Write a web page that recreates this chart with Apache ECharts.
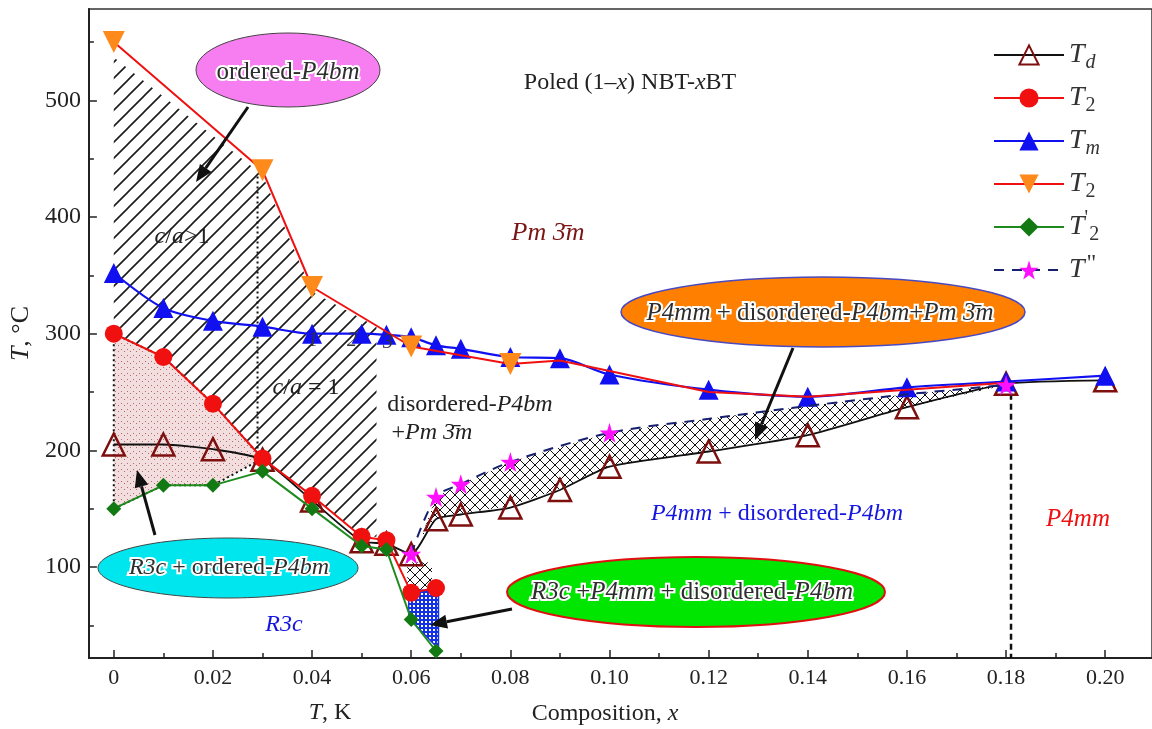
<!DOCTYPE html>
<html>
<head>
<meta charset="utf-8">
<script src="https://cdn.jsdelivr.net/npm/echarts@6/dist/echarts.min.js"></script>
<style>
html, body { margin: 0; padding: 0; background: #fff; }
#main { width: 1152px; height: 729px; }
</style>
</head>
<body>
<div id="main"></div>
<script>
const FONT = "'Liberation Serif', 'Times New Roman', serif"

// ---- data ----
const tdX = [0, 0.01, 0.02, 0.03, 0.04, 0.05, 0.055, 0.06, 0.065, 0.07, 0.08, 0.09, 0.10, 0.12, 0.14, 0.16, 0.18, 0.20]
const tdY = [205, 205, 201, 192, 157, 122, 120, 111, 141, 145, 151, 166, 186, 199, 213, 237, 257, 260]

const t2X = [0, 0.01, 0.02, 0.03, 0.04, 0.05, 0.055, 0.06, 0.065]
const t2Y = [300, 280, 240, 193, 161, 126, 123, 78, 82]

const tmX = [0, 0.01, 0.02, 0.03, 0.04, 0.05, 0.055, 0.06, 0.065, 0.07, 0.08, 0.09, 0.10, 0.12, 0.14, 0.16, 0.18, 0.20]
const tmY = [352, 322, 311, 306, 300, 300, 299, 297, 290, 287, 280, 279, 265, 252, 246, 254, 259, 264]

const t2bX = [0, 0.03, 0.04, 0.06, 0.08, 0.09, 0.10, 0.12, 0.14, 0.16, 0.18]
const t2bY = [550, 440, 340, 289, 274, 277, 268, 250, 246, 252, 258]
const t2bMarked = [1, 1, 1, 1, 1, 0, 0, 0, 0, 0, 0]

const t2pX = [0, 0.01, 0.02, 0.03, 0.04, 0.05, 0.055, 0.06, 0.065]
const t2pY = [150, 170, 170, 182, 150, 118, 115, 55, 28]

const tppX = [0.06, 0.065, 0.07, 0.08, 0.10, 0.12, 0.14, 0.16, 0.18]
const tppY = [111, 160, 171, 190, 215, 227, 238, 248, 256]
const tppMarked = [1, 1, 1, 1, 1, 0, 0, 0, 1]

// phase regions (x, T)
const hatchRegion = [[0, 537], [0.03, 436], [0.04, 336], [0.053, 306], [0.053, 126], [0.05, 126], [0.04, 161], [0.03, 193], [0.02, 240], [0.01, 280], [0, 300]]
const dotRegion = [[0, 300], [0.01, 280], [0.02, 240], [0.03, 193], [0.02, 170], [0.01, 170], [0, 150]]
const crossRegion = [[0.062, 125], [0.065, 160], [0.07, 171], [0.08, 190], [0.10, 215], [0.12, 227], [0.14, 238], [0.16, 248], [0.18, 256],
  [0.16, 237], [0.14, 214], [0.12, 200], [0.10, 186], [0.09, 167], [0.08, 152], [0.07, 146], [0.065, 141]]
const crossSmall = [[0.0592, 104], [0.0642, 104], [0.0642, 80], [0.0592, 80]]
const blueRegion = [[0.0595, 80], [0.0655, 80], [0.0655, 30], [0.0595, 56]]
const caBoundary = [[0.029, 193], [0.029, 436]]
const p4mmBoundary = [[0.181, 257], [0.181, 22]]

// ticks
const xMajor = [0, 0.02, 0.04, 0.06, 0.08, 0.10, 0.12, 0.14, 0.16, 0.18, 0.20]
const xMinor = [0.01, 0.03, 0.05, 0.07, 0.09, 0.11, 0.13, 0.15, 0.17, 0.19]
const yMajor = [100, 200, 300, 400, 500]
const yMinor = [50, 150, 250, 350, 450, 550]

const X_MIN = -0.00502
const X_MAX = 0.20944
const Y_MIN = 22
const Y_MAX = 578.3

const zip = (xs, ys) => xs.map((x, i) => [x, ys[i]])
const STAR = 'path://M50,0 L61,35 L98,35 L68,57 L79,91 L50,70 L21,91 L32,57 L2,35 L39,35 Z'

function pattern(size, draw) {
  const c = document.createElement('canvas')
  c.width = c.height = size
  draw(c.getContext('2d'), size)
  return { image: c, repeat: 'repeat' }
}

const hatchFill = pattern(16, (ctx, s) => {
  ctx.strokeStyle = '#1a1a1a'
  ctx.lineWidth = 1.6
  ctx.beginPath()
  ctx.moveTo(-2, s + 2); ctx.lineTo(s + 2, -2)
  ctx.moveTo(-2, 2); ctx.lineTo(2, -2)
  ctx.moveTo(s - 2, s + 2); ctx.lineTo(s + 2, s - 2)
  ctx.stroke()
})
const crossFill = pattern(10, (ctx, s) => {
  ctx.fillStyle = '#fff'
  ctx.fillRect(0, 0, s, s)
  ctx.strokeStyle = '#111'
  ctx.lineWidth = 1
  ctx.beginPath()
  ctx.moveTo(0, 0); ctx.lineTo(s, s)
  ctx.moveTo(0, s); ctx.lineTo(s, 0)
  ctx.stroke()
})
const blueFill = pattern(4, (ctx, s) => {
  ctx.fillStyle = '#1431e6'
  ctx.fillRect(0, 0, s, s)
  ctx.fillStyle = '#fff'
  ctx.fillRect(1, 1, 2, 2)
})
const dotFill = pattern(6, (ctx, s) => {
  ctx.fillStyle = '#f2dede'
  ctx.fillRect(0, 0, s, s)
  ctx.fillStyle = '#b56a6a'
  ctx.fillRect(1, 1, 1, 1)
  ctx.fillRect(4, 3, 1, 1)
})

function region(pts, fill, stroke, lineWidth, dash) {
  return {
    type: 'custom',
    silent: true,
    z: 1,
    data: [pts[0]],
    renderItem: (params, api) => ({
      type: 'polygon',
      shape: { points: pts.map(p => api.coord(p)) },
      style: { fill: fill, stroke: stroke || 'none', lineWidth: lineWidth || 0, lineDash: dash || null }
    })
  }
}

function it(size, color) {
  return { fontStyle: 'italic', fontSize: size, fontFamily: FONT, color: color, fill: color }
}

function txt(text, x, y, size, color, zz) {
  const c = color || '#222'
  return {
    type: 'text', x: x, y: y, z: zz || 100, silent: true,
    style: {
      text: text, fill: c, fontSize: size, fontFamily: FONT, align: 'center', verticalAlign: 'middle',
      rich: {
        i: { fontStyle: 'italic', fontSize: size, fontFamily: FONT, fill: c }
      }
    }
  }
}

// dark text with a white halo: halo layer underneath, plain text on top
function bubbleTxt(text, x, y, size) {
  const halo = txt(text, x, y, size, '#fff', 99)
  halo.style.stroke = '#fff'
  halo.style.lineWidth = 4
  halo.style.rich.i.stroke = '#fff'
  halo.style.rich.i.lineWidth = 4
  return [halo, txt(text, x, y, size, '#2e2e2e', 100)]
}

function ellipse(cx, cy, rx, ry, fill, stroke, lw) {
  return { type: 'ellipse', z: 90, silent: true, shape: { cx, cy, rx, ry }, style: { fill, stroke, lineWidth: lw } }
}

function arrow(x1, y1, x2, y2) {
  const a = Math.atan2(y2 - y1, x2 - x1)
  const L = 17, W = 7
  const bx = x2 - L * Math.cos(a), by = y2 - L * Math.sin(a)
  const px = -Math.sin(a) * W, py = Math.cos(a) * W
  return [
    { type: 'line', z: 95, silent: true, shape: { x1, y1, x2: bx, y2: by }, style: { stroke: '#111', lineWidth: 3 } },
    { type: 'polygon', z: 95, silent: true, shape: { points: [[x2, y2], [bx + px, by + py], [bx - px, by - py]] }, style: { fill: '#111' } }
  ]
}

const bar3 = '3\u0304'

const legendNames = {
  Td: '{i|T}{si|d}',
  T2: '{i|T}{s|2}',
  Tm: '{i|T}{si|m}',
  T2b: '{i|T}{s|2}',
  T2p: '{i|T}{p|\'}{s|2}',
  Tpp: '{i|T}{q|"}'
}

const myChart = echarts.init(document.getElementById('main'))
myChart.setOption({
  animation: false,
  backgroundColor: '#fff',
  grid: {
    left: 87, right: -3, top: 9, bottom: 71,
    show: true, borderColor: '#333', borderWidth: 1.5
  },
  xAxis: [
    {
      type: 'value', min: X_MIN, max: X_MAX, position: 'bottom',
      axisLine: { show: true, onZero: false, lineStyle: { color: '#222', width: 2 } },
      axisTick: { show: true, inside: true, length: 8, customValues: xMajor, lineStyle: { color: '#222', width: 1.5 } },
      axisLabel: {
        customValues: xMajor, margin: 9, color: '#222', fontSize: 22, fontFamily: FONT,
        formatter: v => (Math.abs(v) < 1e-9 ? '0' : v.toFixed(2))
      },
      splitLine: { show: false }
    },
    {
      type: 'value', min: X_MIN, max: X_MAX, position: 'bottom',
      axisLine: { show: false, onZero: false },
      axisTick: { show: true, inside: true, length: 5, customValues: xMinor, lineStyle: { color: '#222', width: 1.5 } },
      axisLabel: { show: false },
      splitLine: { show: false }
    }
  ],
  yAxis: [
    {
      type: 'value', min: Y_MIN, max: Y_MAX, position: 'left',
      name: '{i|T}, °C', nameLocation: 'middle', nameGap: 47, nameRotate: 90,
      nameTextStyle: {
        color: '#222', fontSize: 26, fontFamily: FONT,
        rich: { i: it(26, '#222') }
      },
      axisLine: { show: true, onZero: false, lineStyle: { color: '#222', width: 2 } },
      axisTick: { show: true, inside: true, length: 8, customValues: yMajor, lineStyle: { color: '#222', width: 1.5 } },
      axisLabel: { customValues: yMajor, margin: 8, color: '#222', fontSize: 24, fontFamily: FONT },
      splitLine: { show: false }
    },
    {
      type: 'value', min: Y_MIN, max: Y_MAX, position: 'left',
      axisLine: { show: false, onZero: false },
      axisTick: { show: true, inside: true, length: 5, customValues: yMinor, lineStyle: { color: '#222', width: 1.5 } },
      axisLabel: { show: false },
      splitLine: { show: false }
    }
  ],
  legend: {
    data: ['Td', 'T2', 'Tm', 'T2b', 'T2p', 'Tpp'],
    orient: 'vertical', left: 988, top: 32,
    itemWidth: 70, itemHeight: 24, itemGap: 7,
    selectedMode: false,
    formatter: n => legendNames[n],
    textStyle: {
      color: '#333', fontSize: 28, fontFamily: FONT,
      rich: {
        i: { fontStyle: 'italic', fontSize: 28, fontFamily: FONT, color: '#333', lineHeight: 30 },
        s: { fontSize: 20, fontFamily: FONT, color: '#333', lineHeight: 20, padding: [16, 0, 0, 1] },
        si: { fontStyle: 'italic', fontSize: 20, fontFamily: FONT, color: '#333', lineHeight: 20, padding: [16, 0, 0, 1] },
        p: { fontSize: 20, fontFamily: FONT, color: '#333', lineHeight: 20, padding: [0, 0, 16, 0] },
        q: { fontSize: 24, fontFamily: FONT, color: '#333', lineHeight: 24, padding: [0, 0, 12, 2] }
      }
    }
  },
  graphic: [
    txt('Poled (1\u2013{i|x}) NBT-{i|x}BT', 630, 83, 24),
    txt('{i|Pm} {i|' + bar3 + 'm}', 548, 233, 26, '#7b1515'),
    txt('{i|c}/{i|a}>1', 182, 237, 24),
    txt('{i|c}/{i|a} = 1', 306, 388, 24),
    txt('disordered-{i|P4bm}', 470, 405, 24),
    txt('+{i|Pm} {i|' + bar3 + 'm}', 432, 433, 24),
    txt('{i|1}', 313, 341, 20, '#333'),
    txt('{i|2}', 352, 341, 20, '#333'),
    txt('{i|3}', 388, 343, 20, '#333'),
    txt('{i|P4mm} + disordered-{i|P4bm}', 777, 514, 24, '#1515e0'),
    txt('{i|P4mm}', 1078, 519, 25, '#ee1111'),
    txt('{i|R3c}', 284, 625, 24, '#1515e0'),
    txt('{i|T}, K', 330, 713, 24),
    txt('Composition, {i|x}', 605, 714, 24),
    ellipse(288, 70, 92, 37, '#f77ef0', '#444', 1),
    ...bubbleTxt('ordered-{i|P4bm}', 288, 72, 25),
    ellipse(228, 568, 130, 30, '#00e6ef', '#444', 1),
    ...bubbleTxt('{i|R3c} + ordered-{i|P4bm}', 229, 568, 24),
    ellipse(696, 592, 189, 35, '#00e600', '#e01010', 2),
    ...bubbleTxt('{i|R3c} +{i|P4mm} + disordered-{i|P4bm}', 692, 592, 25),
    ellipse(823, 312, 202, 35, '#ff8000', '#4a4ac0', 1.5),
    ...bubbleTxt('{i|P4mm} + disordered-{i|P4bm}+{i|Pm} {i|' + bar3 + 'm}', 820, 313, 25),
    ...arrow(248, 107, 196, 182),
    ...arrow(155, 535, 137, 470),
    ...arrow(793, 348, 755, 440),
    ...arrow(512, 609, 430, 625)
  ],
  series: [
    region(hatchRegion, hatchFill),
    region(dotRegion, dotFill, '#111', 2, [2, 3]),
    region(crossRegion, crossFill),
    region(crossSmall, crossFill),
    region(blueRegion, blueFill, '#1431e6', 1.5),
    {
      type: 'line', data: caBoundary, symbol: 'none', silent: true, z: 2,
      lineStyle: { color: '#111', width: 2, type: [2, 3] }
    },
    {
      type: 'line', data: p4mmBoundary, symbol: 'none', silent: true, z: 2,
      lineStyle: { color: '#111', width: 2.5, type: [6, 4] }
    },
    {
      name: 'Td', type: 'line', data: zip(tdX, tdY), smooth: 0.2,
      symbol: 'triangle', symbolSize: 22,
      itemStyle: { color: 'rgba(255,255,255,0)', borderColor: '#7d0f0f', borderWidth: 2.5 },
      lineStyle: { color: '#111', width: 1.8 }, z: 3
    },
    {
      name: 'T2', type: 'line', data: zip(t2X, t2Y),
      symbol: 'circle', symbolSize: 18,
      itemStyle: { color: '#f01010' },
      lineStyle: { color: '#f01010', width: 2 }, z: 4
    },
    {
      name: 'Tm', type: 'line', data: zip(tmX, tmY), smooth: 0.3,
      symbol: 'triangle', symbolSize: 20,
      itemStyle: { color: '#1010f0' },
      lineStyle: { color: '#1010f0', width: 2.2 }, z: 4
    },
    {
      name: 'T2b', type: 'line',
      data: t2bX.map((x, i) => (t2bMarked[i] ? [x, t2bY[i]] : { value: [x, t2bY[i]], symbol: 'none' })),
      symbol: 'triangle', symbolRotate: 180, symbolSize: 22,
      itemStyle: { color: '#ff8a1c' },
      lineStyle: { color: '#f01010', width: 2 }, z: 5
    },
    {
      name: 'T2p', type: 'line', data: zip(t2pX, t2pY),
      symbol: 'diamond', symbolSize: 15,
      itemStyle: { color: '#137a13' },
      lineStyle: { color: '#1e8a1e', width: 2 }, z: 5
    },
    {
      name: 'Tpp', type: 'line', smooth: 0.3,
      data: tppX.map((x, i) => (tppMarked[i] ? [x, tppY[i]] : { value: [x, tppY[i]], symbol: 'none' })),
      symbol: STAR, symbolSize: 20,
      itemStyle: { color: '#ff10ff' },
      lineStyle: { color: '#16206e', width: 2, type: [10, 8] }, z: 6
    }
  ]
})
</script>
</body>
</html>
